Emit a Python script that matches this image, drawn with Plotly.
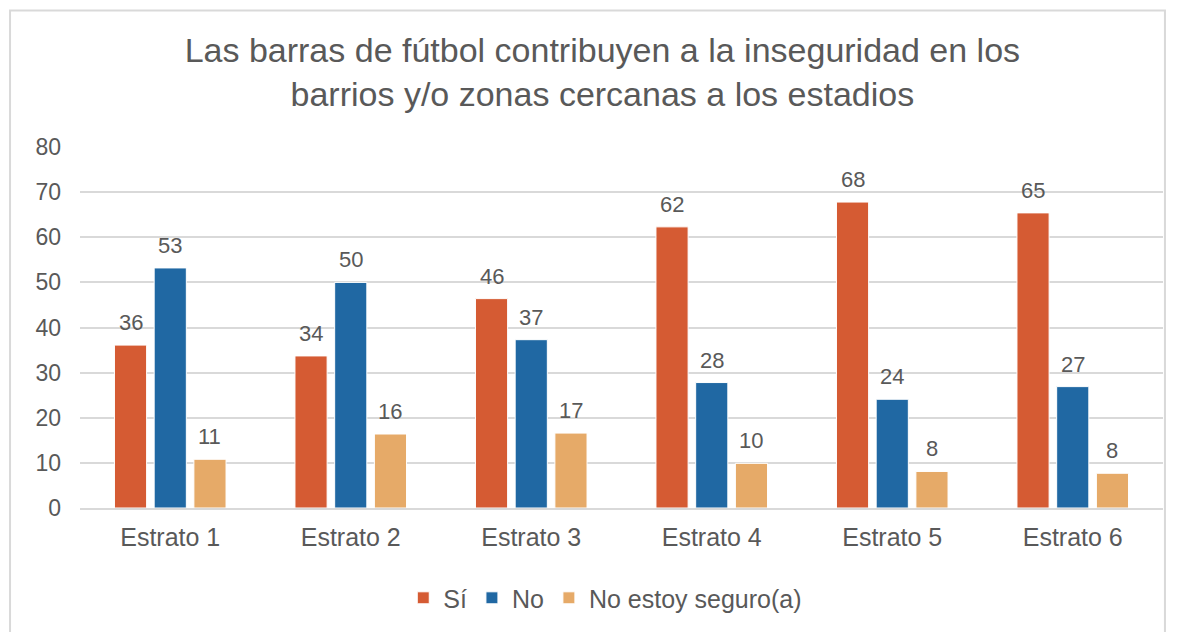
import plotly.graph_objects as go

# Data
estratos = ['Estrato 1', 'Estrato 2', 'Estrato 3', 'Estrato 4', 'Estrato 5', 'Estrato 6']
si = [36.1, 33.7, 46.4, 62.3, 67.8, 65.4]
no = [53.2, 50.0, 37.3, 27.8, 24.1, 26.9]
no_seguro = [10.8, 16.4, 16.6, 9.9, 8.1, 7.7]

series = [
    ('Sí', si, '#D55B33'),
    ('No', no, '#2068A3'),
    ('No estoy seguro(a)', no_seguro, '#E6AA68'),
]

TEXT = '#595959'
FONT = 'Liberation Sans, Arial, sans-serif'
BARGAP = 0.34
BARGROUPGAP = 0.19

fig = go.Figure()
annotations = []
slot = (1 - BARGAP) / len(series)
for k, (name, vals, color) in enumerate(series):
    fig.add_trace(go.Bar(
        x=estratos,
        y=vals,
        name=name,
        marker=dict(color=color, line=dict(color='white', width=1)),
        hoverinfo='x+y+name',
    ))
    # value labels above each bar (placed via the axis, offset to the bar's slot)
    offset = (k - (len(series) - 1) / 2) * slot
    for i, v in enumerate(vals):
        annotations.append(dict(
            x=i + offset, y=v, xref='x', yref='y',
            text=f'{v:.0f}', showarrow=False,
            yanchor='bottom', yshift=8,
            font=dict(size=22, color=TEXT, family=FONT),
        ))

fig.update_layout(
    title=dict(
        text='Las barras de fútbol contribuyen a la inseguridad en los<br>barrios y/o zonas cercanas a los estadios',
        font=dict(size=34, color=TEXT, family=FONT),
        x=0.508, xanchor='center',
        y=0.914, yanchor='middle',
    ),
    barmode='group',
    bargap=BARGAP,
    bargroupgap=BARGROUPGAP,
    xaxis=dict(
        showgrid=False,
        showline=True,
        linecolor='#d9d9d9',
        linewidth=1.5,
        tickfont=dict(size=25, color=TEXT, family=FONT),
        ticklabelstandoff=6,
    ),
    yaxis=dict(
        range=[0, 80],
        dtick=10,
        showgrid=True,
        gridcolor='#d9d9d9',
        gridwidth=1.5,
        zeroline=False,
        tickfont=dict(size=23, color=TEXT, family=FONT),
        ticklabelstandoff=18,
    ),
    legend=dict(
        orientation='h',
        x=0.485, xanchor='center',
        y=-0.246, yanchor='middle',
        font=dict(size=25, color=TEXT, family=FONT),
        itemwidth=30,
        traceorder='normal',
    ),
    annotations=annotations,
    shapes=[dict(
        type='rect', xref='paper', yref='paper',
        x0=-0.0646, x1=1.0018, y0=-0.4, y1=1.378,
        line=dict(color='#d9d9d9', width=2),
        fillcolor='rgba(0,0,0,0)', layer='below',
    )],
    plot_bgcolor='white',
    paper_bgcolor='white',
    width=1170,
    height=624,
    margin=dict(l=72, r=15, t=139, b=123),
    showlegend=True,
)

fig.write_html('out.html')
